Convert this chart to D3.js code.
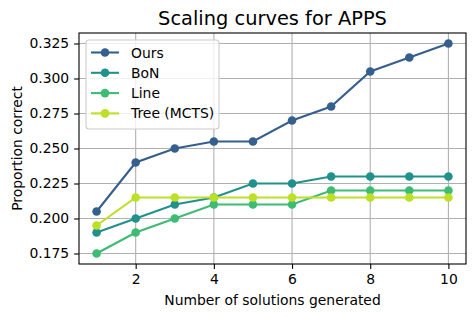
<!DOCTYPE html>
<html>
<head>
<meta charset="utf-8">
<script src="https://cdn.jsdelivr.net/npm/d3@7"></script>
<style>
  body { margin: 0; background: #fff; }
  text { font-family: "DejaVu Sans", sans-serif; fill: #000; }
</style>
</head>
<body>
<script>
var steps = [1, 2, 3, 4, 5, 6, 7, 8, 9, 10];
var ours = [0.205, 0.24, 0.25, 0.255, 0.255, 0.27, 0.28, 0.305, 0.315, 0.325];
var bon = [0.19, 0.2, 0.21, 0.215, 0.225, 0.225, 0.23, 0.23, 0.23, 0.23];
var line = [0.175, 0.19, 0.2, 0.21, 0.21, 0.21, 0.22, 0.22, 0.22, 0.22];
var tree = [0.195, 0.215, 0.215, 0.215, 0.215, 0.215, 0.215, 0.215, 0.215, 0.215];
var seriesNames = ["Ours", "BoN", "Line", "Tree (MCTS)"];
var xTicks = [2, 4, 6, 8, 10];
var yTicks = [0.175, 0.2, 0.225, 0.25, 0.275, 0.3, 0.325];

var colors = ["#355f8d", "#21918c", "#3dbc74", "#bddf26"];
var allSeries = [ours, bon, line, tree];

var W = 476, H = 317;
var plotL = 79, plotR = 466, plotT = 33, plotB = 264;

var svg = d3.select("body").append("svg").attr("width", W).attr("height", H);

var x = d3.scaleLinear().domain([0.55, 10.45]).range([plotL, plotR]);
var y = d3.scaleLinear().domain([0.1675, 0.3325]).range([plotB, plotT]);

// grid
var grid = svg.append("g");
grid.selectAll(".gx").data(xTicks).enter().append("line")
  .attr("x1", function (d) { return x(d); })
  .attr("x2", function (d) { return x(d); })
  .attr("y1", plotT).attr("y2", plotB)
  .attr("stroke", "#b0b0b0").attr("stroke-width", 1.1);
grid.selectAll(".gy").data(yTicks).enter().append("line")
  .attr("y1", function (d) { return y(d); })
  .attr("y2", function (d) { return y(d); })
  .attr("x1", plotL).attr("x2", plotR)
  .attr("stroke", "#b0b0b0").attr("stroke-width", 1.1);

// axes
var xAxis = d3.axisBottom(x).tickValues(xTicks).tickSize(4.9).tickPadding(4.9)
  .tickFormat(d3.format("d"));
var yAxis = d3.axisLeft(y).tickValues(yTicks).tickSize(4.9).tickPadding(4.9)
  .tickFormat(d3.format(".3f"));

var gx = svg.append("g").attr("transform", "translate(0," + plotB + ")").call(xAxis);
var gy = svg.append("g").attr("transform", "translate(" + plotL + ",0)").call(yAxis);
[gx, gy].forEach(function (g) {
  g.select(".domain").remove();
  g.selectAll(".tick line").attr("stroke", "#000").attr("stroke-width", 1.1);
  g.selectAll(".tick text").style("font-size", "13.9px").style("fill", "#000")
    .style("font-family", "DejaVu Sans");
});

// lines + markers
var lineGen = d3.line()
  .x(function (d, i) { return x(steps[i]); })
  .y(function (d) { return y(d); });

allSeries.forEach(function (s, k) {
  var g = svg.append("g");
  g.append("path").datum(s).attr("d", lineGen)
    .attr("fill", "none").attr("stroke", colors[k]).attr("stroke-width", 2.1);
  g.selectAll("circle").data(s).enter().append("circle")
    .attr("cx", function (d, i) { return x(steps[i]); })
    .attr("cy", function (d) { return y(d); })
    .attr("r", 4.3)
    .attr("fill", colors[k]);
});

// frame
svg.append("rect").attr("x", plotL).attr("y", plotT)
  .attr("width", plotR - plotL).attr("height", plotB - plotT)
  .attr("fill", "none").attr("stroke", "#000").attr("stroke-width", 1.1);

// legend
var legend = svg.append("g");
legend.append("rect").attr("x", 86).attr("y", 40).attr("width", 133).attr("height", 89)
  .attr("rx", 3).attr("fill", "#fff").attr("fill-opacity", 0.8)
  .attr("stroke", "#cccccc").attr("stroke-width", 1.1);
seriesNames.forEach(function (name, k) {
  var ly = 52.5 + k * 20.3;
  legend.append("line").attr("x1", 91).attr("x2", 119).attr("y1", ly).attr("y2", ly)
    .attr("stroke", colors[k]).attr("stroke-width", 2.1);
  legend.append("circle").attr("cx", 105).attr("cy", ly).attr("r", 4.3).attr("fill", colors[k]);
  legend.append("text").attr("x", 131).attr("y", ly).attr("dy", "0.36em")
    .style("font-size", "13.9px").text(name);
});

// labels
svg.append("text").attr("x", (plotL + plotR) / 2).attr("y", 25)
  .attr("text-anchor", "middle").style("font-size", "19.4px")
  .text("Scaling curves for APPS");
svg.append("text").attr("x", (plotL + plotR) / 2).attr("y", 305)
  .attr("text-anchor", "middle").style("font-size", "13.9px")
  .text("Number of solutions generated");
svg.append("text")
  .attr("transform", "translate(22," + (plotT + plotB) / 2 + ") rotate(-90)")
  .attr("text-anchor", "middle").style("font-size", "13.9px")
  .text("Proportion correct");
</script>
</body>
</html>
